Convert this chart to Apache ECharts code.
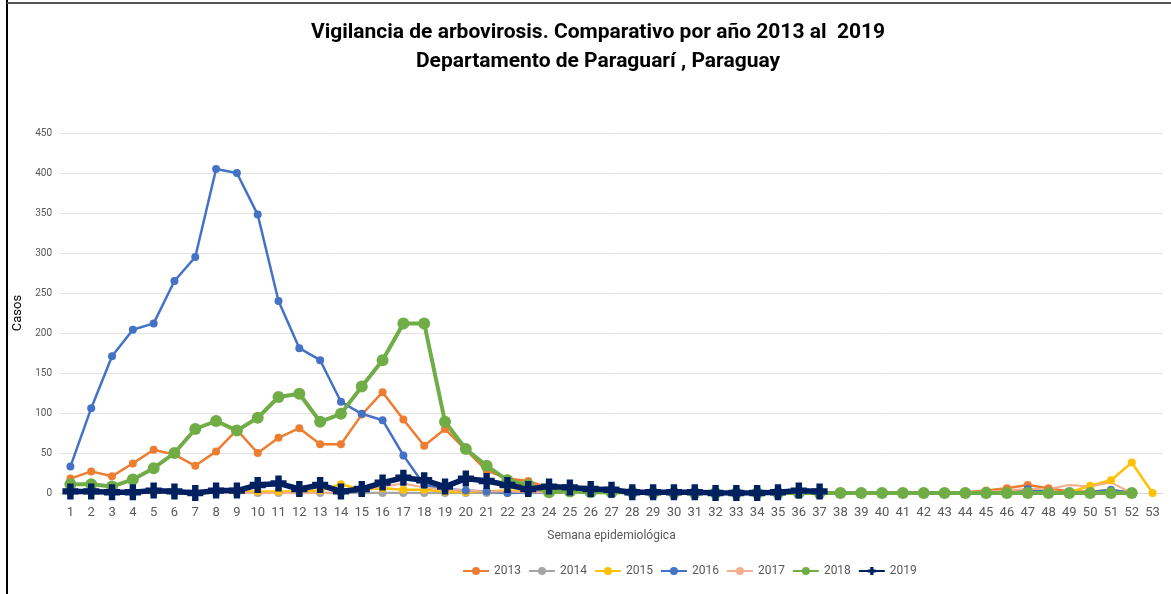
<!DOCTYPE html>
<html>
<head>
<meta charset="utf-8">
<script src="https://cdn.jsdelivr.net/npm/echarts@6/dist/echarts.min.js"></script>
<style>
  html, body { margin: 0; padding: 0; background: #fff; }
  #main { width: 1171px; height: 594px; }
</style>
</head>
<body>
<div id="main"></div>
<script>
// semanas epidemiologicas
const weeks = ['1','2','3','4','5','6','7','8','9','10','11','12','13','14','15','16','17','18','19','20',
  '21','22','23','24','25','26','27','28','29','30','31','32','33','34','35','36','37','38','39','40',
  '41','42','43','44','45','46','47','48','49','50','51','52','53']
const yTicks = [0, 50, 100, 150, 200, 250, 300, 350, 400, 450]

const years = ['2013','2014','2015','2016','2017','2018','2019']

const s2013 = [18,27,21,37,54,48,34,52,79,50,69,81,61,61,98,126,92,59,80,54,
  28,18,15,6,4,2,1,1,0,0,0,0,0,0,0,0,0,0,0,0,
  0,0,0,1,3,6,10,6,2,2,3,1]
const s2014 = [0,0,0,0,0,0,0,0,0,0,0,0,0,0,0,0,0,0,0,0,
  0,0,0,0,0,0,0,0,0,0,0,0,0,0,0,0,0,0,0,0,
  0,0,0,0,0,0,0,0,0,0,0,0]
const s2015 = [1,1,1,1,1,1,1,2,2,2,2,2,3,11,4,6,4,4,2,1,
  2,3,2,1,1,0,0,0,0,0,0,0,0,0,0,0,0,0,0,0,
  0,0,0,0,0,0,0,0,1,9,16,38,0]
const s2016 = [33,106,171,204,212,265,295,405,400,348,240,181,166,114,99,91,47,10,5,3,
  2,0,1,1,1,1,0,0,0,0,0,0,0,0,0,0,0,0,0,0,
  0,0,0,0,0,0,5,1,0,1,4,0]
const s2017 = [0,0,0,0,0,0,0,0,0,0,0,0,0,1,4,8,12,7,4,3,
  2,2,1,1,0,0,0,0,0,0,0,0,0,0,0,0,0,0,0,0,
  0,0,0,1,2,3,5,5,10,8,13,0]
const s2018 = [11,11,8,17,31,50,80,90,78,94,120,124,89,99,133,166,212,212,89,55,
  34,16,10,1,2,1,1,1,0,0,0,0,0,0,0,0,0,0,0,0,
  0,0,0,0,0,0,0,0,0,0,0,0]
const s2019 = [2,2,1,1,3,2,0,3,3,10,12,5,10,2,5,13,19,16,8,18,
  15,10,5,8,7,5,4,1,1,1,1,0,0,0,1,3,2]

const colors = ['#ED7D31','#A5A5A5','#FFC000','#4472C4','#F4AD8E','#70AD47','#002060']
const cross = 'path://M3,0H7V3H10V7H7V10H3V7H0V3H3Z'
const font = 'Roboto'

function line(name, data, color, width, symbol, size) {
  return {
    name: name,
    type: 'line',
    data: data,
    symbol: symbol,
    symbolSize: size,
    showSymbol: symbol !== 'none',
    lineStyle: { color: color, width: width },
    itemStyle: { color: color },
    emphasis: { disabled: true },
    animation: false
  }
}

const myChart = echarts.init(document.getElementById('main'))
myChart.setOption({
  textStyle: { fontFamily: font },
  title: {
    text: 'Vigilancia de arbovirosis. Comparativo por año 2013 al  2019\nDepartamento de Paraguarí , Paraguay',
    left: 593,
    top: 13,
    textAlign: 'center',
    textStyle: {
      fontFamily: font,
      fontWeight: 'bold',
      fontSize: 21,
      lineHeight: 29,
      color: '#000'
    }
  },
  legend: {
    data: years,
    left: 457,
    top: 560,
    itemWidth: 26,
    itemHeight: 10,
    itemGap: 7,
    textStyle: { fontSize: 12, color: '#595959', fontFamily: font }
  },
  grid: { left: 60, right: 8, top: 133, bottom: 101 },
  xAxis: {
    type: 'category',
    data: weeks,
    boundaryGap: true,
    name: 'Semana epidemiológica',
    nameLocation: 'middle',
    nameGap: 37,
    nameTextStyle: { fontSize: 12, color: '#595959', fontFamily: font },
    axisLine: { lineStyle: { color: '#D9D9D9' } },
    axisTick: { show: false },
    axisLabel: { interval: 0, fontSize: 13, color: '#595959', margin: 13, fontFamily: font }
  },
  yAxis: {
    type: 'value',
    min: yTicks[0],
    max: yTicks[yTicks.length - 1],
    interval: 50,
    name: 'Casos',
    nameLocation: 'middle',
    nameGap: 24,
    nameTextStyle: { fontSize: 13, color: '#000', fontFamily: font },
    axisLine: { show: false },
    axisTick: { show: false },
    axisLabel: { fontSize: 10, color: '#595959', margin: 8, fontFamily: font },
    splitLine: { lineStyle: { color: '#E3E3E3' } }
  },
  graphic: [
    { type: 'line', shape: { x1: 7, y1: 0, x2: 7, y2: 594 }, style: { stroke: '#000', lineWidth: 2 } },
    { type: 'line', shape: { x1: 7, y1: 3, x2: 1171, y2: 3 }, style: { stroke: '#555', lineWidth: 2 } }
  ],
  series: [
    line('2013', s2013, colors[0], 2.5, 'circle', 8),
    line('2014', s2014, colors[1], 2.5, 'circle', 8),
    line('2015', s2015, colors[2], 2.5, 'circle', 8),
    line('2016', s2016, colors[3], 2.5, 'circle', 8),
    line('2017', s2017, colors[4], 2, 'none', 0),
    line('2018', s2018, colors[5], 4, 'circle', 12),
    line('2019', s2019, colors[6], 5.5, cross, 16)
  ]
})
</script>
</body>
</html>
